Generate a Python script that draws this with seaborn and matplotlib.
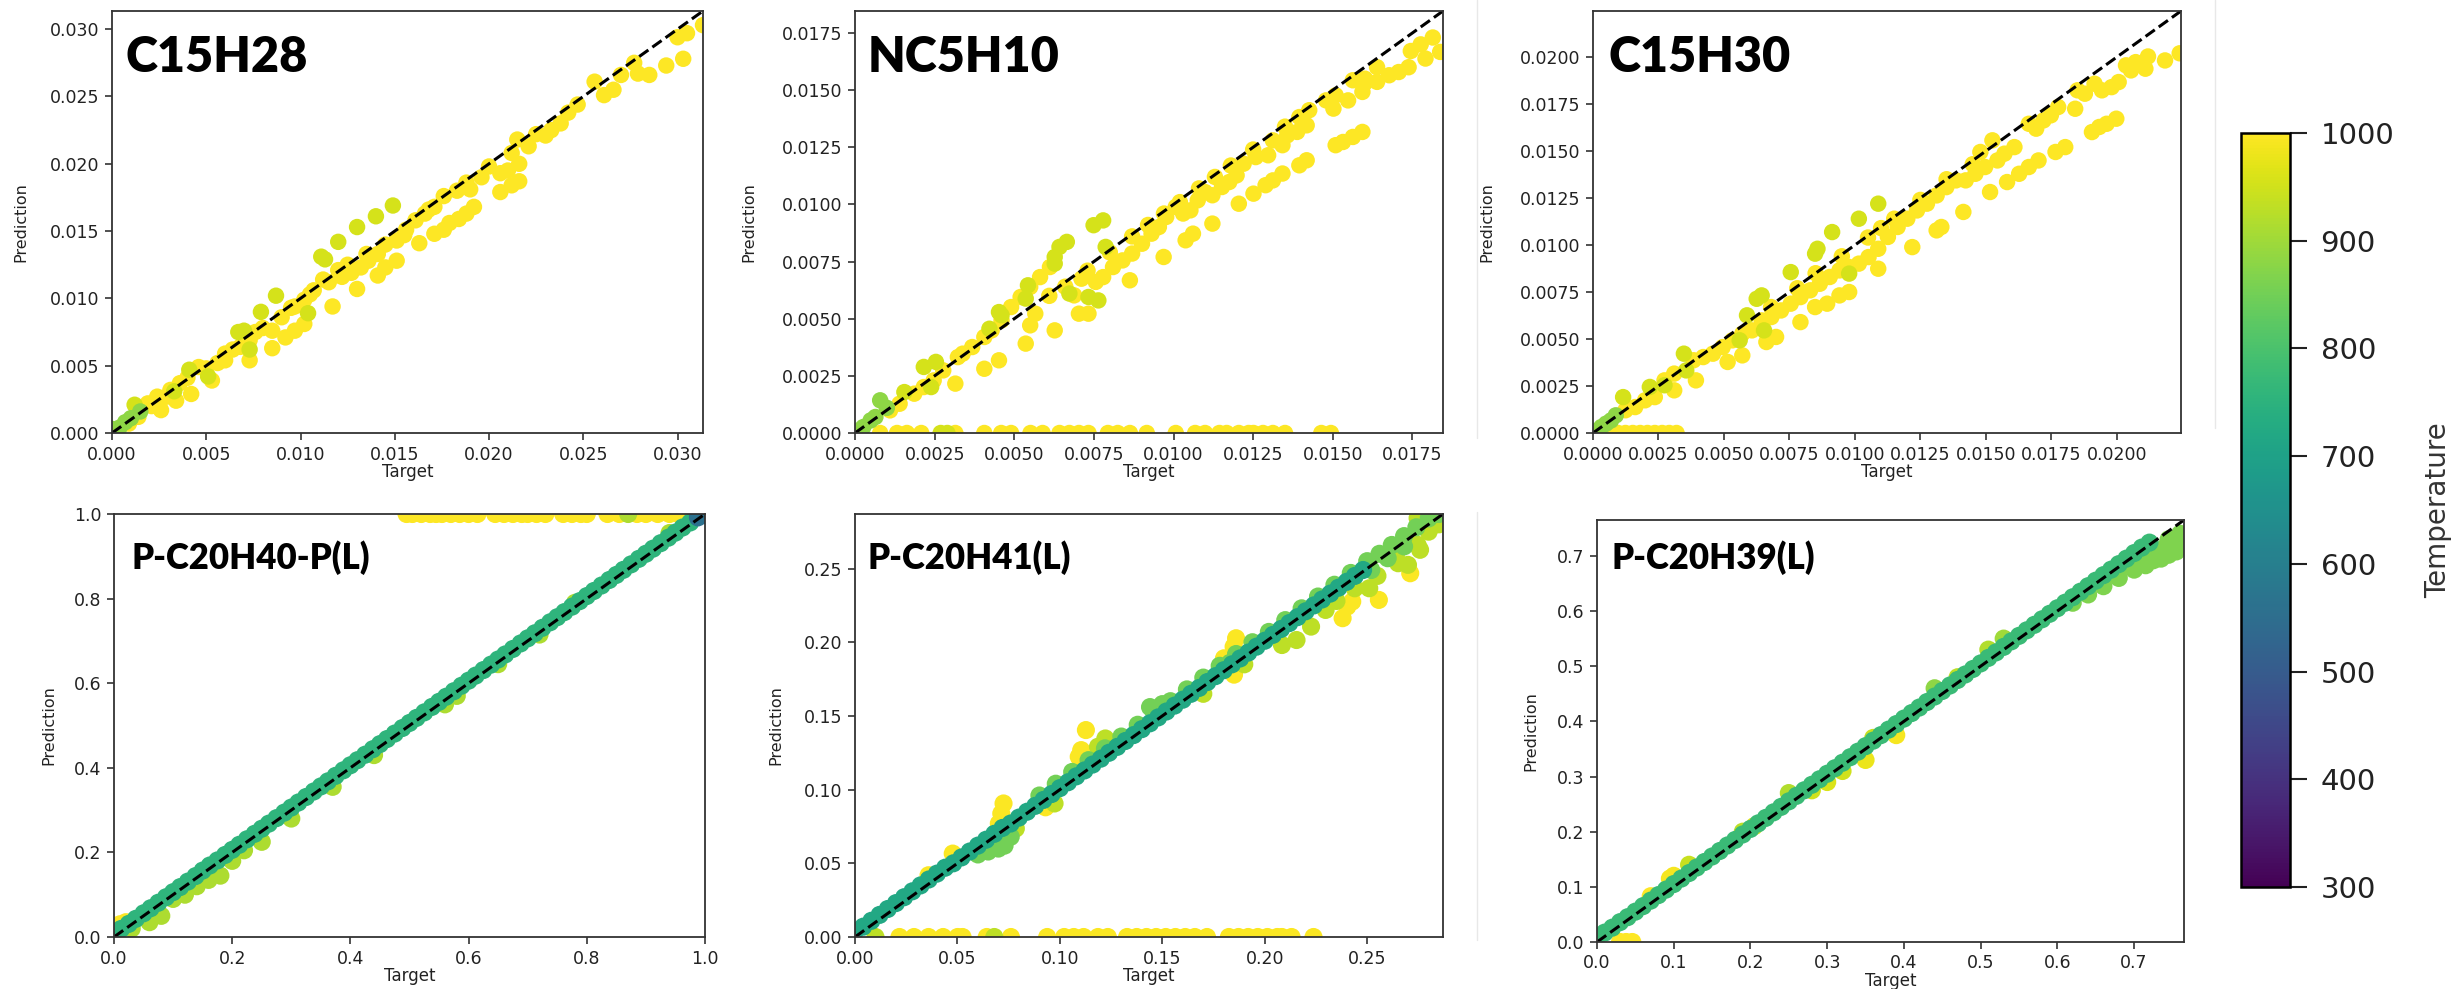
import numpy as np
import pandas as pd
import matplotlib
matplotlib.use("Agg")
import matplotlib.pyplot as plt
from matplotlib.colors import Normalize
from matplotlib.cm import ScalarMappable
from matplotlib.lines import Line2D
import seaborn as sns

# ---------------------------------------------------------------- data
TEMP_MIN, TEMP_MAX = 300, 1000
CBAR_TICKS = [300, 400, 500, 600, 700, 800, 900, 1000]

# ---- C15H28 (Target, Prediction) pairs grouped by temperature
C15H28_T_YELLOW, C15H28_T_LIME, C15H28_T_GREEN = 1000, 955, 880
C15H28_YELLOW = [
    (0.03135, 0.0303), (0.0305, 0.0297), (0.0300, 0.0294), (0.0303, 0.0278), (0.0294, 0.0273),
    (0.0277, 0.0275), (0.0279, 0.0267), (0.0285, 0.0266), (0.0266, 0.0255), (0.0261, 0.0251),
    (0.0256, 0.0261), (0.0247, 0.0244), (0.0242, 0.0238), (0.0238, 0.0230), (0.0233, 0.0225),
    (0.0230, 0.0221), (0.0221, 0.0213), (0.0215, 0.0218), (0.0212, 0.0208), (0.0216, 0.0200),
    (0.0210, 0.0195), (0.0206, 0.0193), (0.0216, 0.0187), (0.0212, 0.0184), (0.0206, 0.0179),
    (0.0200, 0.0198), (0.0196, 0.0190), (0.0190, 0.0181), (0.0192, 0.0168), (0.0188, 0.0163),
    (0.0184, 0.0159), (0.0179, 0.0156), (0.0176, 0.0151), (0.0171, 0.0148), (0.0163, 0.0141),
    (0.0183, 0.0180), (0.0176, 0.0176), (0.0171, 0.0168), (0.0166, 0.0163), (0.0161, 0.0158),
    (0.0156, 0.0151), (0.0151, 0.0143), (0.0151, 0.0128), (0.0145, 0.0123), (0.0141, 0.0117),
    (0.0141, 0.0133), (0.0136, 0.0128), (0.0132, 0.0123), (0.0127, 0.0119), (0.0130, 0.0107),
    (0.0122, 0.0116), (0.0117, 0.0094), (0.0112, 0.0114), (0.0107, 0.0106), (0.0102, 0.0099),
    (0.0102, 0.0081), (0.0097, 0.0076), (0.0092, 0.0071), (0.0097, 0.0094), (0.0090, 0.0086),
    (0.0085, 0.0076), (0.0085, 0.0063), (0.0073, 0.0069), (0.0073, 0.0054), (0.0068, 0.0064),
    (0.0060, 0.0059), (0.0056, 0.0052), (0.0053, 0.0039), (0.0046, 0.0049), (0.0036, 0.0037),
    (0.0031, 0.0032), (0.0034, 0.0024), (0.0042, 0.0029), (0.0024, 0.0027), (0.0019, 0.0022),
    (0.0026, 0.0017), (0.0014, 0.0012), (0.0009, 0.0007), (0.0120, 0.0121), (0.0125, 0.0125),
    (0.0080, 0.0078), (0.0064, 0.0062), (0.0050, 0.0048), (0.0040, 0.0041), (0.0155, 0.0147),
    (0.0145, 0.0140), (0.0115, 0.0112), (0.0105, 0.0103), (0.0060, 0.0054), (0.0029, 0.0027),
    (0.0225, 0.0222), (0.0270, 0.0266), (0.0188, 0.0186), (0.0168, 0.0166), (0.0135, 0.0133),
    (0.0095, 0.0093), (0.0076, 0.0075), (0.0021, 0.0020),
]
C15H28_LIME = [
    (0.0149, 0.0169), (0.0140, 0.0161), (0.0130, 0.0153), (0.0120, 0.0142), (0.0111, 0.0131),
    (0.0113, 0.0129), (0.0087, 0.0102), (0.0079, 0.0090), (0.0067, 0.0075), (0.0070, 0.0076),
    (0.0041, 0.0047), (0.0051, 0.0042), (0.0012, 0.0021), (0.0104, 0.0089), (0.0073, 0.0062),
    (0.0033, 0.0031),
]
C15H28_GREEN = [(0.0007, 0.0008), (0.0004, 0.0004), (0.0002, 0.0002), (0.0010, 0.0011),
                (0.0015, 0.0016), (0.0000, 0.0003)]

# ---- NC5H10
NC5H10_T_YELLOW, NC5H10_T_LIME, NC5H10_T_GREEN = 1000, 955, 880
NC5H10_YELLOW = [
    (0.01814, 0.0173), (0.01837, 0.01667), (0.01776, 0.0170), (0.01745, 0.01671), (0.01791, 0.01638),
    (0.01738, 0.0160), (0.01707, 0.01579), (0.01677, 0.01565), (0.01639, 0.0160), (0.01639, 0.01536),
    (0.01593, 0.01492), (0.01601, 0.0155), (0.01563, 0.01543), (0.01548, 0.01455), (0.01502, 0.01419),
    (0.01509, 0.01477), (0.01479, 0.01455), (0.01593, 0.01317), (0.01563, 0.01295), (0.01532, 0.01273),
    (0.01509, 0.01259), (0.01426, 0.01412), (0.01395, 0.01382), (0.01418, 0.01346), (0.01388, 0.01317),
    (0.01357, 0.01302), (0.01342, 0.01259), (0.01418, 0.01193), (0.01395, 0.01171), (0.01312, 0.0128),
    (0.01297, 0.01215), (0.01258, 0.01207), (0.0122, 0.01178), (0.01342, 0.01135), (0.01312, 0.01105),
    (0.01289, 0.01084), (0.01251, 0.01047), (0.01198, 0.01127), (0.01175, 0.01098), (0.01152, 0.01076),
    (0.01122, 0.0104), (0.01205, 0.01003), (0.01099, 0.01054), (0.01076, 0.01018), (0.01053, 0.00974),
    (0.0103, 0.0096), (0.01122, 0.00916), (0.01061, 0.00872), (0.01038, 0.00843), (0.01007, 0.00989),
    (0.00977, 0.00945), (0.00954, 0.00901), (0.00931, 0.00872), (0.00901, 0.00828), (0.00969, 0.0077),
    (0.0087, 0.00785), (0.0084, 0.00755), (0.0081, 0.00726), (0.00779, 0.00682), (0.00756, 0.00661),
    (0.00863, 0.00668), (0.00733, 0.00522), (0.00703, 0.00522), (0.00711, 0.00675), (0.00688, 0.00602),
    (0.00612, 0.00726), (0.00581, 0.00682), (0.0055, 0.00639), (0.0052, 0.00595), (0.0049, 0.00551),
    (0.00566, 0.00522), (0.0055, 0.00471), (0.00627, 0.00449), (0.00536, 0.00391), (0.0046, 0.00493),
    (0.00429, 0.00449), (0.00406, 0.0042), (0.00368, 0.00376), (0.00338, 0.00347), (0.00452, 0.00318),
    (0.00406, 0.00281), (0.00323, 0.00332), (0.00277, 0.00274), (0.00315, 0.00216), (0.00247, 0.0023),
    (0.00216, 0.00201), (0.00186, 0.00172), (0.0014, 0.00128), (0.0011, 0.00099), (0.0125, 0.0124),
    (0.0113, 0.0112), (0.0102, 0.0101), (0.0092, 0.0091), (0.0073, 0.0071), (0.0066, 0.0064),
    (0.0160, 0.0153), (0.0135, 0.0134), (0.0118, 0.0117), (0.0108, 0.0107), (0.0097, 0.0096),
    (0.0087, 0.0086), (0.0080, 0.0079), (0.0061, 0.0060),
]
NC5H10_YELLOW_ZERO = [0.00079, 0.00132, 0.00163, 0.00208, 0.00315, 0.00406, 0.00459, 0.0049,
                      0.00551, 0.00589, 0.00642, 0.00673, 0.00703, 0.00733, 0.00794, 0.00825,
                      0.00863, 0.00916, 0.01007, 0.01068, 0.01099, 0.01144, 0.01167, 0.01205,
                      0.01236, 0.01251, 0.01281, 0.01312, 0.0135, 0.01464, 0.01494]
NC5H10_LIME = [
    (0.00779, 0.0093), (0.00749, 0.00909), (0.00787, 0.00814), (0.00665, 0.00836), (0.00642, 0.00814),
    (0.00627, 0.0077), (0.00627, 0.00741), (0.00764, 0.0058), (0.00733, 0.00595), (0.00673, 0.0061),
    (0.00543, 0.00646), (0.00536, 0.00588), (0.00452, 0.00529), (0.0046, 0.00515), (0.00422, 0.00456),
    (0.00254, 0.00311), (0.00216, 0.00289), (0.00239, 0.00201), (0.00155, 0.00179), (0.00269, 0.0),
    (0.0029, 0.0),
]
NC5H10_GREEN = [(0.00079, 0.00143), (0.00049, 0.00055), (0.00026, 0.00026), (0.00064, 0.0007),
                (0.0001, 0.0001), (0.0010, 0.0011)]

# ---- C15H30
C15H30_T_YELLOW, C15H30_T_LIME, C15H30_T_GREEN = 1000, 955, 880
C15H30_YELLOW = [
    (0.0224, 0.0202), (0.02184, 0.01982), (0.02119, 0.02003), (0.02109, 0.01938), (0.02072, 0.01973),
    (0.02054, 0.01929), (0.02035, 0.01956), (0.02007, 0.01867), (0.0198, 0.0184), (0.01943, 0.01823),
    (0.01915, 0.01858), (0.01878, 0.01805), (0.0185, 0.01823), (0.01841, 0.01725), (0.01998, 0.01672),
    (0.01961, 0.01645), (0.01933, 0.01628), (0.01905, 0.01601), (0.01803, 0.01521), (0.01766, 0.01495),
    (0.01776, 0.01734), (0.01748, 0.0169), (0.0172, 0.01663), (0.01692, 0.01619), (0.01664, 0.01645),
    (0.01701, 0.0145), (0.01664, 0.01415), (0.01627, 0.01379), (0.01581, 0.01335), (0.01609, 0.01521),
    (0.01571, 0.01486), (0.01544, 0.0145), (0.01497, 0.01415), (0.0146, 0.01379), (0.01423, 0.01344),
    (0.01516, 0.01282), (0.01525, 0.01557), (0.01479, 0.01495), (0.01386, 0.01344), (0.01349, 0.01308),
    (0.01312, 0.01264), (0.01275, 0.0122), (0.01237, 0.01184), (0.012, 0.0114), (0.01163, 0.01096),
    (0.01126, 0.01043), (0.01414, 0.01176), (0.0133, 0.01096), (0.01312, 0.01078), (0.01219, 0.00989),
    (0.01089, 0.00874), (0.00978, 0.0075), (0.00941, 0.00732), (0.00894, 0.00688), (0.00848, 0.0067),
    (0.01089, 0.0098), (0.01052, 0.00936), (0.01015, 0.00901), (0.00978, 0.00883), (0.00941, 0.00865),
    (0.00904, 0.0083), (0.00866, 0.00794), (0.00829, 0.00759), (0.00792, 0.00723), (0.00755, 0.00688),
    (0.00718, 0.00652), (0.00681, 0.00617), (0.00792, 0.0059), (0.00699, 0.00511), (0.00662, 0.00484),
    (0.00644, 0.00599), (0.00607, 0.00546), (0.0057, 0.00528), (0.00532, 0.00493), (0.00495, 0.00457),
    (0.00458, 0.00422), (0.0057, 0.00413), (0.00514, 0.00378), (0.00421, 0.00404), (0.00384, 0.00387),
    (0.00393, 0.0028), (0.0031, 0.00316), (0.00273, 0.0028), (0.0031, 0.00227), (0.00236, 0.00191),
    (0.00199, 0.00174), (0.00161, 0.00138), (0.00124, 0.00121), (0.0135, 0.0135), (0.0115, 0.0114),
    (0.0105, 0.0104), (0.0085, 0.0085), (0.0125, 0.0124), (0.0110, 0.0109), (0.0095, 0.0094),
    (0.0078, 0.0077), (0.0068, 0.0067), (0.0145, 0.0143),
]
C15H30_YELLOW_ZERO = [0.00069, 0.00096, 0.00124, 0.00152, 0.0018, 0.00208, 0.00236, 0.00264,
                      0.00291, 0.00319]
C15H30_LIME = [
    (0.01089, 0.0122), (0.01015, 0.0114), (0.00913, 0.01069), (0.00857, 0.0098), (0.00848, 0.00954),
    (0.00978, 0.00848), (0.00755, 0.00856), (0.00625, 0.00714), (0.00644, 0.00732), (0.00588, 0.00626),
    (0.00653, 0.00546), (0.0056, 0.00493), (0.00347, 0.00422), (0.00356, 0.00333), (0.00273, 0.00254),
    (0.00217, 0.00245), (0.00115, 0.00191),
]
C15H30_GREEN = [(0.00069, 0.00067), (0.00032, 0.00032), (0.00087, 0.00094), (0.0001, 0.0001),
                (0.0005, 0.0005)]

# ---- P-C20H40-P(L)
PC20H40_T_BAND, PC20H40_T_LIME, PC20H40_T_YELLOW, PC20H40_T_DARK = 755, 915, 1000, 560
PC20H40_BAND = [
    (0.000, 0.008), (0.012, 0.019), (0.025, 0.031), (0.037, 0.043), (0.050, 0.056), (0.062, 0.068),
    (0.075, 0.081), (0.088, 0.094), (0.100, 0.106), (0.112, 0.118), (0.125, 0.131), (0.138, 0.144),
    (0.150, 0.157), (0.162, 0.169), (0.175, 0.181), (0.188, 0.194), (0.200, 0.206), (0.212, 0.218),
    (0.225, 0.231), (0.238, 0.244), (0.250, 0.256), (0.262, 0.268), (0.275, 0.281), (0.288, 0.294),
    (0.300, 0.306), (0.312, 0.318), (0.325, 0.331), (0.338, 0.344), (0.350, 0.356), (0.362, 0.368),
    (0.375, 0.381), (0.388, 0.394), (0.400, 0.406), (0.412, 0.418), (0.425, 0.431), (0.438, 0.444),
    (0.450, 0.456), (0.462, 0.468), (0.475, 0.481), (0.488, 0.494), (0.500, 0.506), (0.512, 0.518),
    (0.525, 0.531), (0.538, 0.544), (0.550, 0.556), (0.562, 0.568), (0.575, 0.581), (0.588, 0.594),
    (0.600, 0.606), (0.612, 0.618), (0.625, 0.631), (0.638, 0.644), (0.650, 0.656), (0.662, 0.668),
    (0.675, 0.681), (0.688, 0.694), (0.700, 0.706), (0.712, 0.718), (0.725, 0.731), (0.738, 0.744),
    (0.750, 0.756), (0.762, 0.768), (0.775, 0.781), (0.788, 0.794), (0.800, 0.806), (0.812, 0.818),
    (0.825, 0.831), (0.838, 0.844), (0.850, 0.856), (0.862, 0.868), (0.875, 0.881), (0.888, 0.894),
    (0.900, 0.906), (0.912, 0.918), (0.925, 0.931), (0.938, 0.944), (0.950, 0.956), (0.962, 0.968),
    (0.975, 0.980),
]
PC20H40_DARK = [(0.988, 0.992), (1.000, 0.998)]
PC20H40_LIME = [
    (0.08, 0.05), (0.06, 0.035), (0.12, 0.10), (0.14, 0.12), (0.16, 0.135), (0.18, 0.145),
    (0.20, 0.18), (0.22, 0.205), (0.25, 0.225), (0.30, 0.28), (0.37, 0.355), (0.56, 0.55),
    (0.58, 0.57), (0.65, 0.645), (0.78, 0.79), (0.94, 0.955), (0.72, 0.715), (0.44, 0.43),
    (0.10, 0.09), (0.03, 0.02), (0.87, 1.0),
]
PC20H40_YELLOW = [(0.01, 0.03), (0.02, 0.035)]
PC20H40_YELLOW_ONE = [0.495, 0.505, 0.52, 0.535, 0.545, 0.555, 0.57, 0.585, 0.60, 0.615,
                      0.645, 0.66, 0.675, 0.69, 0.70, 0.715, 0.73, 0.76, 0.775, 0.79,
                      0.80, 0.835, 0.855, 0.885, 0.90, 0.92, 0.94, 0.955, 0.97]

# ---- P-C20H41(L)
PC20H41_T_BAND, PC20H41_T_GREEN, PC20H41_T_LIME, PC20H41_T_YELLOW = 720, 850, 930, 995
PC20H41_BAND = [
    (0.000, 0.004), (0.004, 0.007), (0.008, 0.011), (0.012, 0.015), (0.016, 0.019), (0.020, 0.023),
    (0.024, 0.027), (0.028, 0.031), (0.032, 0.035), (0.036, 0.039), (0.040, 0.043), (0.044, 0.047),
    (0.048, 0.050), (0.052, 0.054), (0.056, 0.058), (0.060, 0.062), (0.064, 0.066), (0.068, 0.070),
    (0.072, 0.074), (0.076, 0.077), (0.080, 0.081), (0.084, 0.085), (0.088, 0.089), (0.092, 0.093),
    (0.096, 0.097), (0.100, 0.101), (0.104, 0.105), (0.108, 0.109), (0.112, 0.113), (0.116, 0.117),
    (0.120, 0.121), (0.124, 0.125), (0.128, 0.129), (0.132, 0.133), (0.136, 0.137), (0.140, 0.141),
    (0.144, 0.145), (0.148, 0.149), (0.152, 0.153), (0.156, 0.157), (0.160, 0.161), (0.164, 0.165),
    (0.168, 0.169), (0.172, 0.173), (0.176, 0.177), (0.180, 0.181), (0.184, 0.185), (0.188, 0.189),
    (0.192, 0.193), (0.196, 0.197), (0.200, 0.201), (0.204, 0.205), (0.208, 0.209), (0.212, 0.213),
    (0.216, 0.217), (0.220, 0.221), (0.224, 0.225), (0.228, 0.229), (0.232, 0.233), (0.236, 0.237),
    (0.240, 0.241), (0.244, 0.245), (0.248, 0.249),
]
PC20H41_GREEN = [
    (0.090, 0.096), (0.098, 0.104), (0.106, 0.112), (0.114, 0.120), (0.122, 0.128), (0.130, 0.136),
    (0.138, 0.144), (0.146, 0.152), (0.154, 0.160), (0.162, 0.168), (0.170, 0.176), (0.178, 0.184),
    (0.186, 0.192), (0.194, 0.200), (0.202, 0.207), (0.210, 0.215), (0.218, 0.223), (0.226, 0.231),
    (0.234, 0.239), (0.242, 0.247), (0.250, 0.255), (0.256, 0.260), (0.262, 0.266), (0.268, 0.272),
    (0.274, 0.278), (0.280, 0.284), (0.285, 0.287), (0.252, 0.249), (0.260, 0.257), (0.268, 0.265),
    (0.060, 0.056), (0.065, 0.058), (0.070, 0.060), (0.073, 0.062), (0.076, 0.068), (0.144, 0.156),
    (0.150, 0.158), (0.183, 0.186),
]
PC20H41_LIME = [
    (0.2746, 0.2842), (0.2746, 0.2661), (0.2758, 0.2627), (0.2699, 0.2525), (0.264, 0.2586),
    (0.2651, 0.2536), (0.251, 0.2366), (0.2439, 0.2366), (0.2297, 0.2219), (0.2226, 0.2106),
    (0.2155, 0.2015), (0.2084, 0.1981), (0.1222, 0.1347), (0.1186, 0.1291), (0.0785, 0.0736),
    (0.0974, 0.0906), (0.170, 0.165), (0.190, 0.185), (0.235, 0.228), (0.255, 0.245),
    (0.280, 0.275), (0.285, 0.280), (0.010, 0.0), (0.068, 0.0),
]
PC20H41_YELLOW = [
    (0.271, 0.2468), (0.2557, 0.2287), (0.2427, 0.2276), (0.2403, 0.2242), (0.238, 0.2163),
    (0.186, 0.2027), (0.1848, 0.197), (0.1801, 0.1891), (0.1127, 0.1404), (0.1104, 0.1268),
    (0.1092, 0.1223), (0.0725, 0.0906), (0.0714, 0.0838), (0.0702, 0.077), (0.0359, 0.0419),
    (0.0477, 0.0566), (0.185, 0.178), (0.093, 0.088),
]
PC20H41_YELLOW_ZERO = [0.0217, 0.0288, 0.0359, 0.0430, 0.0501, 0.0525, 0.0643, 0.0761, 0.0938,
                       0.1021, 0.1068, 0.1116, 0.1186, 0.1234, 0.1328, 0.1375, 0.1423, 0.1470,
                       0.1517, 0.1564, 0.1612, 0.1659, 0.1718, 0.1825, 0.1872, 0.1919, 0.1966,
                       0.2013, 0.2061, 0.2084, 0.2131, 0.2238]

# ---- P-C20H39(L)
PC20H39_T_BAND, PC20H39_T_TAIL = 775, 865
PC20H39_BAND = [
    (0.00, 0.010), (0.01, 0.017), (0.02, 0.026), (0.03, 0.036), (0.04, 0.045), (0.05, 0.055),
    (0.06, 0.065), (0.07, 0.075), (0.08, 0.085), (0.09, 0.095), (0.10, 0.105), (0.11, 0.115),
    (0.12, 0.125), (0.13, 0.135), (0.14, 0.145), (0.15, 0.155), (0.16, 0.165), (0.17, 0.175),
    (0.18, 0.185), (0.19, 0.195), (0.20, 0.205), (0.21, 0.215), (0.22, 0.225), (0.23, 0.235),
    (0.24, 0.245), (0.25, 0.255), (0.26, 0.265), (0.27, 0.275), (0.28, 0.285), (0.29, 0.295),
    (0.30, 0.305), (0.31, 0.315), (0.32, 0.325), (0.33, 0.335), (0.34, 0.345), (0.35, 0.355),
    (0.36, 0.365), (0.37, 0.375), (0.38, 0.385), (0.39, 0.395), (0.40, 0.405), (0.41, 0.415),
    (0.42, 0.425), (0.43, 0.435), (0.44, 0.445), (0.45, 0.455), (0.46, 0.465), (0.47, 0.475),
    (0.48, 0.485), (0.49, 0.495), (0.50, 0.505), (0.51, 0.515), (0.52, 0.525), (0.53, 0.535),
    (0.54, 0.545), (0.55, 0.555), (0.56, 0.565), (0.57, 0.575), (0.58, 0.585), (0.59, 0.595),
    (0.60, 0.605), (0.61, 0.615), (0.62, 0.625), (0.63, 0.635), (0.64, 0.645), (0.65, 0.655),
    (0.66, 0.665), (0.67, 0.675), (0.68, 0.685), (0.69, 0.695), (0.70, 0.705), (0.71, 0.715),
    (0.72, 0.724),
]
PC20H39_TAIL = [
    (0.620, 0.615), (0.640, 0.630), (0.660, 0.645), (0.680, 0.660), (0.700, 0.675), (0.710, 0.690),
    (0.720, 0.700), (0.730, 0.705), (0.740, 0.715), (0.750, 0.720), (0.760, 0.728), (0.765, 0.735),
    (0.700, 0.700), (0.720, 0.715), (0.745, 0.730), (0.760, 0.740), (0.690, 0.685), (0.675, 0.672),
    (0.735, 0.695), (0.755, 0.708), (0.765, 0.718), (0.715, 0.683), (0.745, 0.702), (0.725, 0.692),
]
PC20H39_SCATTER = [
    (0.070, 0.083, 1000), (0.095, 0.115, 990), (0.100, 0.120, 990), (0.120, 0.140, 940),
    (0.190, 0.200, 930), (0.250, 0.270, 920), (0.350, 0.330, 980), (0.390, 0.375, 990),
    (0.360, 0.370, 940), (0.440, 0.460, 880), (0.510, 0.530, 920), (0.530, 0.550, 900),
    (0.300, 0.290, 960), (0.280, 0.275, 950), (0.470, 0.480, 930), (0.205, 0.210, 960),
    (0.320, 0.310, 950), (0.030, 0.000, 1000), (0.038, 0.000, 1000), (0.046, 0.000, 1000),
]

# ---- panel names, limits and ticks
PANEL_NAMES = ["C15H28", "NC5H10", "C15H30", "P-C20H40-P(L)", "P-C20H41(L)", "P-C20H39(L)"]
PANEL_LIMITS = [0.03135, 0.01846, 0.02245, 1.0, 0.287, 0.765]
PANEL_TICKS = [
    [0.000, 0.005, 0.010, 0.015, 0.020, 0.025, 0.030],
    [0.0, 0.0025, 0.0050, 0.0075, 0.0100, 0.0125, 0.0150, 0.0175],
    [0.0, 0.0025, 0.0050, 0.0075, 0.0100, 0.0125, 0.0150, 0.0175, 0.0200],
    [0.0, 0.2, 0.4, 0.6, 0.8, 1.0],
    [0.00, 0.05, 0.10, 0.15, 0.20, 0.25],
    [0.0, 0.1, 0.2, 0.3, 0.4, 0.5, 0.6, 0.7],
]
PANEL_DECIMALS = [3, 4, 4, 1, 2, 1]


# ---------------------------------------------------------------- helpers
def frame(groups):
    rows = []
    for pairs, temp in groups:
        for p in pairs:
            if len(p) == 3:
                rows.append((p[0], p[1], p[2]))
            else:
                rows.append((p[0], p[1], temp))
    return pd.DataFrame(rows, columns=["Target", "Prediction", "Temperature"])


def on_axis(xs, yval):
    return [(x, yval) for x in xs]


panel_frames = [
    frame([(C15H28_YELLOW, C15H28_T_YELLOW), (C15H28_LIME, C15H28_T_LIME),
           (C15H28_GREEN, C15H28_T_GREEN)]),
    frame([(NC5H10_YELLOW, NC5H10_T_YELLOW), (on_axis(NC5H10_YELLOW_ZERO, 0.0), NC5H10_T_YELLOW),
           (NC5H10_LIME, NC5H10_T_LIME), (NC5H10_GREEN, NC5H10_T_GREEN)]),
    frame([(C15H30_YELLOW, C15H30_T_YELLOW), (on_axis(C15H30_YELLOW_ZERO, 0.0), C15H30_T_YELLOW),
           (C15H30_LIME, C15H30_T_LIME), (C15H30_GREEN, C15H30_T_GREEN)]),
    frame([(on_axis(PC20H40_YELLOW_ONE, 1.0), PC20H40_T_YELLOW), (PC20H40_YELLOW, PC20H40_T_YELLOW),
           (PC20H40_LIME, PC20H40_T_LIME), (PC20H40_BAND, PC20H40_T_BAND),
           (PC20H40_DARK, PC20H40_T_DARK)]),
    frame([(on_axis(PC20H41_YELLOW_ZERO, 0.0), PC20H41_T_YELLOW), (PC20H41_YELLOW, PC20H41_T_YELLOW),
           (PC20H41_LIME, PC20H41_T_LIME), (PC20H41_GREEN, PC20H41_T_GREEN),
           (PC20H41_BAND, PC20H41_T_BAND)]),
    frame([(PC20H39_SCATTER, None), (PC20H39_TAIL, PC20H39_T_TAIL), (PC20H39_BAND, PC20H39_T_BAND)]),
]

# ---------------------------------------------------------------- style
sns.set_style("ticks")
plt.rcParams["font.family"] = ["DejaVu Sans"]
plt.rcParams["axes.edgecolor"] = "#333333"
plt.rcParams["axes.linewidth"] = 1.3

W, H = 2461, 989
fig = plt.figure(figsize=(W / 100, H / 100), dpi=100)
fig.patch.set_facecolor("white")

# axes boxes in pixels: left, right, top, bottom
BOXES = [(112, 703, 11, 433), (855, 1443, 11, 433), (1593, 2181, 11, 433),
         (114, 705, 514, 937), (855, 1443, 514, 937), (1597, 2184, 520, 942)]
YLABEL_X = [-0.142, -0.168, -0.168, -0.098, -0.122, -0.100]
TITLE_POS = [(0.022, 0.855, 35), (0.022, 0.855, 35), (0.027, 0.855, 35),
             (0.029, 0.870, 25), (0.022, 0.870, 25), (0.024, 0.884, 25)]
MARKER_AREA = [140, 140, 140, 170, 170, 170]


def px_box(l, r, t, b):
    return [l / W, 1 - b / H, (r - l) / W, (b - t) / H]


for i, df in enumerate(panel_frames):
    ax = fig.add_axes(px_box(*BOXES[i]))
    lim = PANEL_LIMITS[i]
    sns.scatterplot(data=df, x="Target", y="Prediction", hue="Temperature",
                    palette="viridis", hue_norm=(TEMP_MIN, TEMP_MAX), s=MARKER_AREA[i],
                    linewidth=0, legend=False, ax=ax)
    ax.plot([0, lim], [0, lim], color="black", linestyle="--", linewidth=2.2)
    ax.set_xlim(0, lim)
    ax.set_ylim(0, lim)
    ticks = PANEL_TICKS[i]
    fmt = "{:.%df}" % PANEL_DECIMALS[i]
    ax.set_xticks(ticks)
    ax.set_yticks(ticks)
    ax.set_xticklabels([fmt.format(t) for t in ticks])
    ax.set_yticklabels([fmt.format(t) for t in ticks])
    ax.tick_params(axis="both", labelsize=12.5, length=5, width=1.2, pad=4,
                   colors="#333333", labelcolor="#222222")
    ax.set_xlabel("Target", fontsize=12, color="#222222")
    ax.set_ylabel("Prediction", fontsize=11.5, color="#222222")
    ax.xaxis.set_label_coords(0.5, -0.07)
    ax.yaxis.set_label_coords(YLABEL_X[i], 0.5)
    tx, ty, tfs = TITLE_POS[i]
    ax.text(tx, ty, PANEL_NAMES[i], transform=ax.transAxes, fontsize=tfs,
            fontweight="heavy", family=["Lato", "DejaVu Sans"], va="baseline",
            ha="left", color="black")

# colorbar
cax = fig.add_axes(px_box(2241, 2290, 133, 887))
sm = ScalarMappable(norm=Normalize(TEMP_MIN, TEMP_MAX), cmap="viridis")
cb = fig.colorbar(sm, cax=cax)
cb.set_ticks(CBAR_TICKS)
cb.outline.set_linewidth(1.8)
cb.outline.set_edgecolor("black")
cax.tick_params(labelsize=21, length=12, width=1.5, pad=10, colors="#222222")
fig.text(2438 / W, 1 - 510 / H, "Temperature", rotation=90, ha="center", va="center",
         fontsize=20, color="#333333")

# faint separator lines of the original composite
for x, y0, y1 in [(1477, 0, 438), (1477, 512, 940), (2215, 0, 428)]:
    fig.add_artist(Line2D([x / W, x / W], [1 - y0 / H, 1 - y1 / H],
                          transform=fig.transFigure, color="#e8e8e8", linewidth=1))

fig.savefig("out.png", dpi=100, facecolor="white")
